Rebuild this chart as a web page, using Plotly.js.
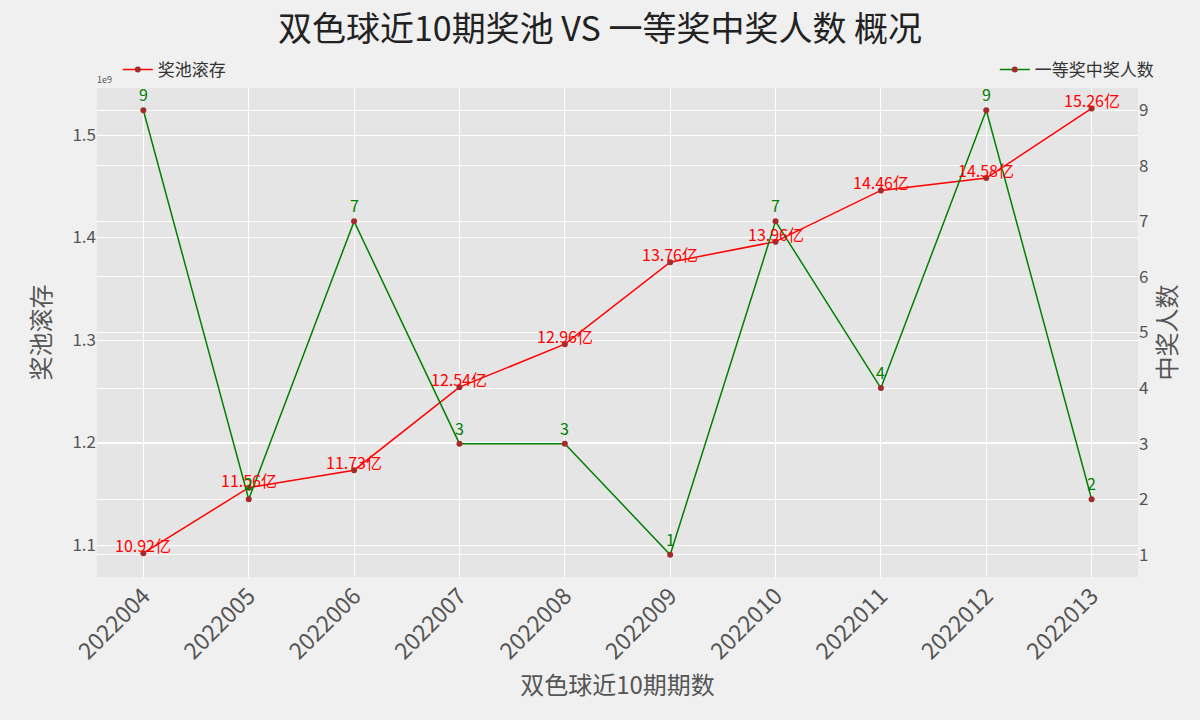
<!DOCTYPE html>
<html>
<head>
<meta charset="utf-8">
<script src="https://cdn.plot.ly/plotly-3.0.1.min.js"></script>
<style>html,body{margin:0;padding:0;background:#f0f0f0;}#chart{width:1200px;height:720px;}</style>
</head>
<body>
<div id="chart"></div>
<script>
const periods = ['2022004','2022005','2022006','2022007','2022008','2022009','2022010','2022011','2022012','2022013'];
const poolYi = [10.92, 11.56, 11.73, 12.54, 12.96, 13.76, 13.96, 14.46, 14.58, 15.26];
const winners = [9, 2, 7, 3, 3, 1, 7, 4, 9, 2];
const leftTickVals = [1.1e9, 1.2e9, 1.3e9, 1.4e9, 1.5e9];
const leftTickText = ['1.1', '1.2', '1.3', '1.4', '1.5'];
const rightTickVals = [1, 2, 3, 4, 5, 6, 7, 8, 9];

const FONT = '"Noto Sans CJK SC", "DejaVu Sans", sans-serif';
const poolVals = poolYi.map(v => v * 1e8);

const traces = [
  {
    x: periods, y: poolVals, type: 'scatter', mode: 'lines+markers',
    name: '奖池滚存',
    line: {color: '#ff0000', width: 1.5},
    marker: {color: '#a52a2a', size: 6},
    yaxis: 'y', legend: 'legend', cliponaxis: false
  },
  {
    x: periods, y: winners, type: 'scatter', mode: 'lines+markers',
    name: '一等奖中奖人数',
    line: {color: '#008000', width: 1.5},
    marker: {color: '#a52a2a', size: 6},
    yaxis: 'y2', legend: 'legend2', cliponaxis: false
  }
];

const annotations = [
  {text: '1e9', xref: 'paper', yref: 'paper', x: 0, y: 1.0, xanchor: 'left', yanchor: 'bottom',
   showarrow: false, font: {size: 9, color: '#555555'}, xshift: -2}
];
periods.forEach((p, i) => {
  annotations.push({
    x: i, y: poolVals[i], xref: 'x', yref: 'y', text: poolYi[i].toFixed(2) + '亿',
    showarrow: false, xanchor: 'center', yanchor: 'middle', yshift: 8,
    font: {size: 16, color: '#ff0000', family: FONT}
  });
  annotations.push({
    x: i, y: winners[i], xref: 'x', yref: 'y2', text: String(winners[i]),
    showarrow: false, xanchor: 'center', yanchor: 'middle', yshift: 16,
    font: {size: 16, color: '#008000', family: FONT}
  });
});

const layout = {
  width: 1200, height: 720,
  paper_bgcolor: '#f0f0f0', plot_bgcolor: '#e5e5e5',
  font: {family: FONT, color: '#555555'},
  margin: {l: 97, r: 62, t: 88, b: 143},
  title: {text: '双色球近10期奖池 VS 一等奖中奖人数 概况', x: 0.5, xanchor: 'center', y: 0.96, yanchor: 'middle',
          font: {size: 34, color: '#222222', family: FONT}},
  xaxis: {
    type: 'category', range: [-0.44, 9.44], tickangle: -45,
    tickfont: {size: 23, color: '#555555'}, showgrid: true, gridcolor: '#ffffff', gridwidth: 1,
    ticks: '', zeroline: false, showline: false,
    title: {text: '双色球近10期期数', font: {size: 24, color: '#555555'}, standoff: 6}
  },
  yaxis: {
    range: [1.0688e9, 1.5459e9], tickvals: leftTickVals, ticktext: leftTickText,
    tickfont: {size: 17, color: '#555555'}, showgrid: true, gridcolor: '#ffffff', gridwidth: 1,
    ticks: '', zeroline: false, showline: false,
    title: {text: '奖池滚存', font: {size: 24, color: '#555555'}, standoff: 14}
  },
  yaxis2: {
    overlaying: 'y', side: 'right', range: [0.6, 9.4], tickvals: rightTickVals,
    tickfont: {size: 17, color: '#555555'}, showgrid: true, gridcolor: '#ffffff', gridwidth: 1,
    ticks: '', zeroline: false, showline: false,
    title: {text: '中奖人数', font: {size: 24, color: '#555555'}, standoff: 10}
  },
  legend: {x: 0.02, y: 1.0, xanchor: 'left', yanchor: 'bottom', bgcolor: 'rgba(0,0,0,0)',
           font: {size: 17, color: '#333333', family: FONT}},
  legend2: {x: 1.02, y: 1.0, xanchor: 'right', yanchor: 'bottom', bgcolor: 'rgba(0,0,0,0)',
           font: {size: 17, color: '#333333', family: FONT}},
  annotations: annotations,
  showlegend: true
};

Plotly.newPlot('chart', traces, layout, {displayModeBar: false, staticPlot: true});
</script>
</body>
</html>
